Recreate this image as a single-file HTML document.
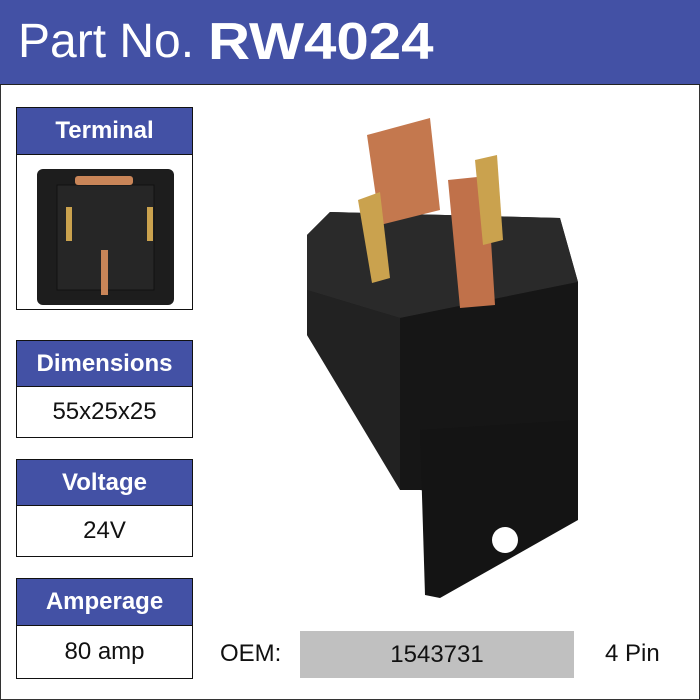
<!DOCTYPE html>
<html><head><style>
body{margin:0;width:700px;height:700px;position:relative;background:#fff;font-family:"Liberation Sans",Arial,sans-serif;overflow:hidden}
.frame{position:absolute;left:0;top:0;width:698px;height:698px;border:1px solid #333}
.hdr{position:absolute;left:0;top:0;width:700px;height:84px;background:#4351a5;border-bottom:1px solid #222;color:#fff}
.hdr span{position:absolute;top:14px;font-size:48px}
.box{position:absolute;left:16px;width:175px;border:1px solid #111}
.bh{background:#4351a5;color:#fff;font-weight:bold;font-size:24px;text-align:center;border-bottom:1px solid #111}
.bv{font-size:24px;text-align:center;color:#111}
.t{position:absolute;font-size:24px;color:#111}
</style></head><body>
<div class="frame"></div>
<div class="hdr"><span style="left:18px">Part No.</span><span style="left:208px;top:12px;font-weight:bold;font-size:52px;transform:scaleX(1.12);transform-origin:left">RW4024</span></div>
<div class="box" style="top:107px;height:201px"><div class="bh" style="height:46px;line-height:46px">Terminal</div>
<svg width="175" height="154" style="display:block">
<rect x="20" y="14" width="137" height="136" rx="6" fill="#1d1d1d"/>
<rect x="40" y="30" width="97" height="105" fill="#262626" stroke="#111"/>
<rect x="58" y="21" width="58" height="9" rx="3" fill="#c98558"/>
<rect x="49" y="52" width="6" height="34" fill="#caa24e"/>
<rect x="130" y="52" width="6" height="34" fill="#caa24e"/>
<rect x="84" y="95" width="7" height="45" fill="#c98558"/>
</svg></div>
<div class="box" style="top:340px;height:96px"><div class="bh" style="height:45px;line-height:45px">Dimensions</div><div class="bv" style="line-height:50px">55x25x25</div></div>
<div class="box" style="top:459px;height:96px"><div class="bh" style="height:45px;line-height:45px">Voltage</div><div class="bv" style="line-height:50px">24V</div></div>
<div class="box" style="top:578px;height:99px"><div class="bh" style="height:46px;line-height:46px">Amperage</div><div class="bv" style="line-height:52px">80 amp</div></div>
<svg style="position:absolute;left:0;top:0" width="700" height="700">
<polygon points="307,235 330,212 560,218 578,282 578,500 540,505 420,490 400,485 307,335" fill="#1c1c1c"/>
<polygon points="307,235 330,212 560,218 578,282 400,318 307,290" fill="#2a2a2a"/>
<polygon points="400,318 578,282 578,490 400,490" fill="#161616"/>
<polygon points="307,290 400,318 400,490 307,335" fill="#222"/>
<polygon points="420,430 578,420 578,520 440,598 425,595" fill="#141414"/>
<circle cx="505" cy="540" r="13" fill="#fff"/>
<polygon points="367,135 430,118 440,210 380,225" fill="#c4784e"/>
<polygon points="448,180 487,176 495,305 460,308" fill="#c0714a"/>
<polygon points="358,200 380,192 390,278 372,283" fill="#caa24e"/>
<polygon points="475,160 497,155 503,240 483,245" fill="#caa24e"/>
</svg>
<div class="t" style="left:220px;top:640px">OEM:</div>
<div style="position:absolute;left:300px;top:631px;width:274px;height:47px;background:#c0c0c0;font-size:24px;text-align:center;line-height:47px;color:#111">1543731</div>
<div class="t" style="left:605px;top:640px">4 Pin</div>
</body></html>
